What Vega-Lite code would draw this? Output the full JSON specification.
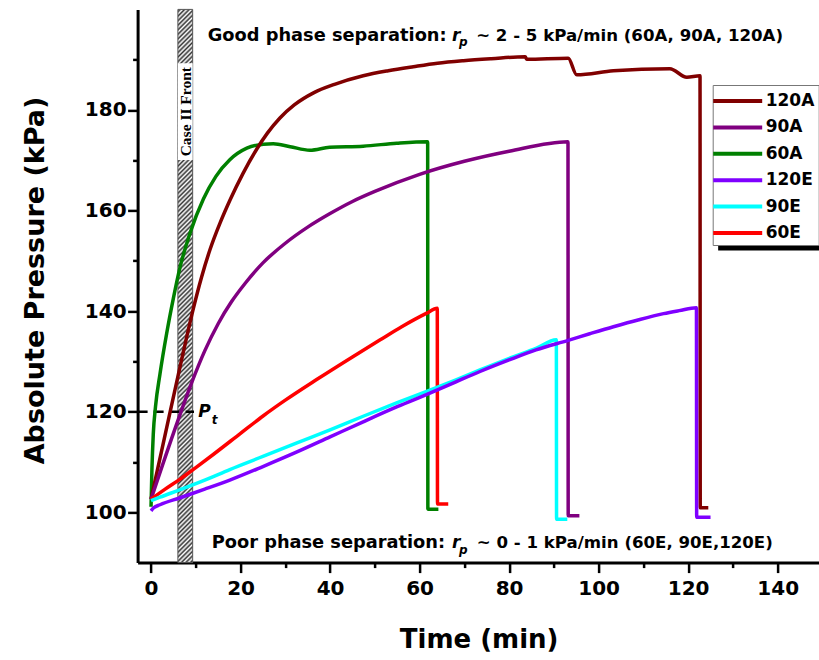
{
  "$schema": "https://vega.github.io/schema/vega-lite/v6.json",
  "width": 681.4,
  "height": 553.2,
  "autosize": {"type": "none"},
  "padding": {"left": 137.6, "top": 9.4, "right": 0, "bottom": 97.4},
  "config": {"view": {"stroke": null}, "font": "DejaVu Sans", "background": "white"},
  "layer": [
    {
      "data": {"values": [{"t": 6.0, "t2": 9.3}]},
      "mark": {"type": "rect", "stroke": "#555", "strokeWidth": 1,
        "fill": {"gradient": "linear", "x1": 0, "y1": 0, "x2": 0.0274, "y2": 1.0259, "stops": [
{"offset":0,"color":"#fff"},{"offset":0.004,"color":"#333"},{"offset":0.008,"color":"#fff"},{"offset":0.012,"color":"#333"},{"offset":0.016,"color":"#fff"},{"offset":0.02,"color":"#333"},{"offset":0.024,"color":"#fff"},{"offset":0.028,"color":"#333"},{"offset":0.032,"color":"#fff"},{"offset":0.036,"color":"#333"},
{"offset":0.04,"color":"#fff"},{"offset":0.044,"color":"#333"},{"offset":0.048,"color":"#fff"},{"offset":0.052,"color":"#333"},{"offset":0.056,"color":"#fff"},{"offset":0.06,"color":"#333"},{"offset":0.064,"color":"#fff"},{"offset":0.068,"color":"#333"},{"offset":0.072,"color":"#fff"},{"offset":0.076,"color":"#333"},
{"offset":0.08,"color":"#fff"},{"offset":0.084,"color":"#333"},{"offset":0.088,"color":"#fff"},{"offset":0.092,"color":"#333"},{"offset":0.096,"color":"#fff"},{"offset":0.1,"color":"#333"},{"offset":0.104,"color":"#fff"},{"offset":0.108,"color":"#333"},{"offset":0.112,"color":"#fff"},{"offset":0.116,"color":"#333"},
{"offset":0.12,"color":"#fff"},{"offset":0.124,"color":"#333"},{"offset":0.128,"color":"#fff"},{"offset":0.132,"color":"#333"},{"offset":0.136,"color":"#fff"},{"offset":0.14,"color":"#333"},{"offset":0.144,"color":"#fff"},{"offset":0.148,"color":"#333"},{"offset":0.152,"color":"#fff"},{"offset":0.156,"color":"#333"},
{"offset":0.16,"color":"#fff"},{"offset":0.164,"color":"#333"},{"offset":0.168,"color":"#fff"},{"offset":0.172,"color":"#333"},{"offset":0.176,"color":"#fff"},{"offset":0.18,"color":"#333"},{"offset":0.184,"color":"#fff"},{"offset":0.188,"color":"#333"},{"offset":0.192,"color":"#fff"},{"offset":0.196,"color":"#333"},
{"offset":0.2,"color":"#fff"},{"offset":0.204,"color":"#333"},{"offset":0.208,"color":"#fff"},{"offset":0.212,"color":"#333"},{"offset":0.216,"color":"#fff"},{"offset":0.22,"color":"#333"},{"offset":0.224,"color":"#fff"},{"offset":0.228,"color":"#333"},{"offset":0.232,"color":"#fff"},{"offset":0.236,"color":"#333"},
{"offset":0.24,"color":"#fff"},{"offset":0.244,"color":"#333"},{"offset":0.248,"color":"#fff"},{"offset":0.252,"color":"#333"},{"offset":0.256,"color":"#fff"},{"offset":0.26,"color":"#333"},{"offset":0.264,"color":"#fff"},{"offset":0.268,"color":"#333"},{"offset":0.272,"color":"#fff"},{"offset":0.276,"color":"#333"},
{"offset":0.28,"color":"#fff"},{"offset":0.284,"color":"#333"},{"offset":0.288,"color":"#fff"},{"offset":0.292,"color":"#333"},{"offset":0.296,"color":"#fff"},{"offset":0.3,"color":"#333"},{"offset":0.304,"color":"#fff"},{"offset":0.308,"color":"#333"},{"offset":0.312,"color":"#fff"},{"offset":0.316,"color":"#333"},
{"offset":0.32,"color":"#fff"},{"offset":0.324,"color":"#333"},{"offset":0.328,"color":"#fff"},{"offset":0.332,"color":"#333"},{"offset":0.336,"color":"#fff"},{"offset":0.34,"color":"#333"},{"offset":0.344,"color":"#fff"},{"offset":0.348,"color":"#333"},{"offset":0.352,"color":"#fff"},{"offset":0.356,"color":"#333"},
{"offset":0.36,"color":"#fff"},{"offset":0.364,"color":"#333"},{"offset":0.368,"color":"#fff"},{"offset":0.372,"color":"#333"},{"offset":0.376,"color":"#fff"},{"offset":0.38,"color":"#333"},{"offset":0.384,"color":"#fff"},{"offset":0.388,"color":"#333"},{"offset":0.392,"color":"#fff"},{"offset":0.396,"color":"#333"},
{"offset":0.4,"color":"#fff"},{"offset":0.404,"color":"#333"},{"offset":0.408,"color":"#fff"},{"offset":0.412,"color":"#333"},{"offset":0.416,"color":"#fff"},{"offset":0.42,"color":"#333"},{"offset":0.424,"color":"#fff"},{"offset":0.428,"color":"#333"},{"offset":0.432,"color":"#fff"},{"offset":0.436,"color":"#333"},
{"offset":0.44,"color":"#fff"},{"offset":0.444,"color":"#333"},{"offset":0.448,"color":"#fff"},{"offset":0.452,"color":"#333"},{"offset":0.456,"color":"#fff"},{"offset":0.46,"color":"#333"},{"offset":0.464,"color":"#fff"},{"offset":0.468,"color":"#333"},{"offset":0.472,"color":"#fff"},{"offset":0.476,"color":"#333"},
{"offset":0.48,"color":"#fff"},{"offset":0.484,"color":"#333"},{"offset":0.488,"color":"#fff"},{"offset":0.492,"color":"#333"},{"offset":0.496,"color":"#fff"},{"offset":0.5,"color":"#333"},{"offset":0.504,"color":"#fff"},{"offset":0.508,"color":"#333"},{"offset":0.512,"color":"#fff"},{"offset":0.516,"color":"#333"},
{"offset":0.52,"color":"#fff"},{"offset":0.524,"color":"#333"},{"offset":0.528,"color":"#fff"},{"offset":0.532,"color":"#333"},{"offset":0.536,"color":"#fff"},{"offset":0.54,"color":"#333"},{"offset":0.544,"color":"#fff"},{"offset":0.548,"color":"#333"},{"offset":0.552,"color":"#fff"},{"offset":0.556,"color":"#333"},
{"offset":0.56,"color":"#fff"},{"offset":0.564,"color":"#333"},{"offset":0.568,"color":"#fff"},{"offset":0.572,"color":"#333"},{"offset":0.576,"color":"#fff"},{"offset":0.58,"color":"#333"},{"offset":0.584,"color":"#fff"},{"offset":0.588,"color":"#333"},{"offset":0.592,"color":"#fff"},{"offset":0.596,"color":"#333"},
{"offset":0.6,"color":"#fff"},{"offset":0.604,"color":"#333"},{"offset":0.608,"color":"#fff"},{"offset":0.612,"color":"#333"},{"offset":0.616,"color":"#fff"},{"offset":0.62,"color":"#333"},{"offset":0.624,"color":"#fff"},{"offset":0.628,"color":"#333"},{"offset":0.632,"color":"#fff"},{"offset":0.636,"color":"#333"},
{"offset":0.64,"color":"#fff"},{"offset":0.644,"color":"#333"},{"offset":0.648,"color":"#fff"},{"offset":0.652,"color":"#333"},{"offset":0.656,"color":"#fff"},{"offset":0.66,"color":"#333"},{"offset":0.664,"color":"#fff"},{"offset":0.668,"color":"#333"},{"offset":0.672,"color":"#fff"},{"offset":0.676,"color":"#333"},
{"offset":0.68,"color":"#fff"},{"offset":0.684,"color":"#333"},{"offset":0.688,"color":"#fff"},{"offset":0.692,"color":"#333"},{"offset":0.696,"color":"#fff"},{"offset":0.7,"color":"#333"},{"offset":0.704,"color":"#fff"},{"offset":0.708,"color":"#333"},{"offset":0.712,"color":"#fff"},{"offset":0.716,"color":"#333"},
{"offset":0.72,"color":"#fff"},{"offset":0.724,"color":"#333"},{"offset":0.728,"color":"#fff"},{"offset":0.732,"color":"#333"},{"offset":0.736,"color":"#fff"},{"offset":0.74,"color":"#333"},{"offset":0.744,"color":"#fff"},{"offset":0.748,"color":"#333"},{"offset":0.752,"color":"#fff"},{"offset":0.756,"color":"#333"},
{"offset":0.76,"color":"#fff"},{"offset":0.764,"color":"#333"},{"offset":0.768,"color":"#fff"},{"offset":0.772,"color":"#333"},{"offset":0.776,"color":"#fff"},{"offset":0.78,"color":"#333"},{"offset":0.784,"color":"#fff"},{"offset":0.788,"color":"#333"},{"offset":0.792,"color":"#fff"},{"offset":0.796,"color":"#333"},
{"offset":0.8,"color":"#fff"},{"offset":0.804,"color":"#333"},{"offset":0.808,"color":"#fff"},{"offset":0.812,"color":"#333"},{"offset":0.816,"color":"#fff"},{"offset":0.82,"color":"#333"},{"offset":0.824,"color":"#fff"},{"offset":0.828,"color":"#333"},{"offset":0.832,"color":"#fff"},{"offset":0.836,"color":"#333"},
{"offset":0.84,"color":"#fff"},{"offset":0.844,"color":"#333"},{"offset":0.848,"color":"#fff"},{"offset":0.852,"color":"#333"},{"offset":0.856,"color":"#fff"},{"offset":0.86,"color":"#333"},{"offset":0.864,"color":"#fff"},{"offset":0.868,"color":"#333"},{"offset":0.872,"color":"#fff"},{"offset":0.876,"color":"#333"},
{"offset":0.88,"color":"#fff"},{"offset":0.884,"color":"#333"},{"offset":0.888,"color":"#fff"},{"offset":0.892,"color":"#333"},{"offset":0.896,"color":"#fff"},{"offset":0.9,"color":"#333"},{"offset":0.904,"color":"#fff"},{"offset":0.908,"color":"#333"},{"offset":0.912,"color":"#fff"},{"offset":0.916,"color":"#333"},
{"offset":0.92,"color":"#fff"},{"offset":0.924,"color":"#333"},{"offset":0.928,"color":"#fff"},{"offset":0.932,"color":"#333"},{"offset":0.936,"color":"#fff"},{"offset":0.94,"color":"#333"},{"offset":0.944,"color":"#fff"},{"offset":0.948,"color":"#333"},{"offset":0.952,"color":"#fff"},{"offset":0.956,"color":"#333"},
{"offset":0.96,"color":"#fff"},{"offset":0.964,"color":"#333"},{"offset":0.968,"color":"#fff"},{"offset":0.972,"color":"#333"},{"offset":0.976,"color":"#fff"},{"offset":0.98,"color":"#333"},{"offset":0.984,"color":"#fff"},{"offset":0.988,"color":"#333"},{"offset":0.992,"color":"#fff"},{"offset":0.996,"color":"#333"},
{"offset":1,"color":"#fff"}
        ]}},
      "encoding": {
        "x": {"field": "t", "type": "quantitative", "scale": {"domain": [-3, 149.23], "nice": false, "zero": false}},
        "x2": {"field": "t2"}
      }
    },
    {
      "data": {"values": [{"t": 6.0, "t2": 9.3, "p": 170.05, "p2": 189.3}]},
      "mark": {"type": "rect", "fill": "white"},
      "encoding": {
        "x": {"field": "t", "type": "quantitative", "scale": {"domain": [-3, 149.23], "nice": false, "zero": false}},
        "x2": {"field": "t2"},
        "y": {"field": "p", "type": "quantitative", "scale": {"domain": [90, 200], "nice": false, "zero": false}},
        "y2": {"field": "p2"}
      }
    },
    {
      "data": {"values": [{"t": 7.9, "p": 179.66, "txt": "Case II Front"}]},
      "mark": {"type": "text", "angle": 270, "font": "Liberation Serif", "fontWeight": "bold", "fontSize": 15.5, "align": "center", "baseline": "middle", "color": "black"},
      "encoding": {
        "x": {"field": "t", "type": "quantitative", "scale": {"domain": [-3, 149.23], "nice": false, "zero": false}},
        "y": {"field": "p", "type": "quantitative", "scale": {"domain": [90, 200], "nice": false, "zero": false}},
        "text": {"field": "txt"}
      }
    },
    {
      "data": {"values": [{"t": -3, "t2": 9.6}]},
      "mark": {"type": "rule", "strokeWidth": 2.5, "color": "black", "strokeDash": [10, 6]},
      "encoding": {
        "x": {"field": "t", "type": "quantitative", "scale": {"domain": [-3, 149.23], "nice": false, "zero": false}},
        "x2": {"field": "t2"},
        "y": {"datum": 120, "type": "quantitative", "scale": {"domain": [90, 200], "nice": false, "zero": false}}
      }
    },
    {
      "data": {"values": [
        {"s":"60A","t":0,"p":101.1},{"s":"60A","t":0.2,"p":108.5},{"s":"60A","t":0.5,"p":115.5},{"s":"60A","t":1.0,"p":121},{"s":"60A","t":2.0,"p":127.5},{"s":"60A","t":3.5,"p":135.6},{"s":"60A","t":5,"p":142.6},{"s":"60A","t":6.5,"p":148.8},{"s":"60A","t":8.7,"p":155.5},{"s":"60A","t":11.7,"p":162.3},{"s":"60A","t":14.5,"p":166.8},{"s":"60A","t":17.6,"p":170.1},{"s":"60A","t":21.4,"p":172.4},{"s":"60A","t":25.1,"p":173.2},{"s":"60A","t":27.3,"p":173.3},{"s":"60A","t":31.1,"p":172.7},{"s":"60A","t":35.5,"p":172.0},{"s":"60A","t":39.9,"p":172.6},{"s":"60A","t":47.4,"p":172.8},{"s":"60A","t":54.9,"p":173.4},{"s":"60A","t":61.8,"p":173.7},{"s":"60A","t":61.85,"p":100.6},{"s":"60A","t":64.2,"p":100.6},
        {"s":"120A","t":0,"p":102.6},{"s":"120A","t":3,"p":114.8},{"s":"120A","t":6,"p":127.0},{"s":"120A","t":8,"p":135.0},{"s":"120A","t":9.45,"p":140.5},{"s":"120A","t":11.3,"p":146.8},{"s":"120A","t":13.2,"p":152.3},{"s":"120A","t":15.5,"p":157.7},{"s":"120A","t":17.65,"p":162.1},{"s":"120A","t":20.5,"p":167.3},{"s":"120A","t":23.6,"p":172.2},{"s":"120A","t":26,"p":175.4},{"s":"120A","t":28.8,"p":178.4},{"s":"120A","t":32,"p":181.0},{"s":"120A","t":36.3,"p":183.4},{"s":"120A","t":41,"p":185.1},{"s":"120A","t":47.4,"p":186.8},{"s":"120A","t":53,"p":187.8},{"s":"120A","t":58.6,"p":188.6},{"s":"120A","t":64,"p":189.3},{"s":"120A","t":69.8,"p":189.8},{"s":"120A","t":76,"p":190.2},{"s":"120A","t":83.6,"p":190.6},{"s":"120A","t":83.9,"p":190.1},{"s":"120A","t":93.2,"p":190.3},{"s":"120A","t":95.1,"p":187.0},{"s":"120A","t":103.3,"p":187.8},{"s":"120A","t":115.9,"p":188.2},{"s":"120A","t":119.7,"p":186.5},{"s":"120A","t":122.65,"p":186.8},{"s":"120A","t":122.7,"p":100.9},{"s":"120A","t":124.5,"p":100.9},
        {"s":"90A","t":0,"p":102.6},{"s":"90A","t":5,"p":115.7},{"s":"90A","t":9,"p":125.6},{"s":"90A","t":12,"p":132.1},{"s":"90A","t":15,"p":137.5},{"s":"90A","t":18,"p":141.9},{"s":"90A","t":21,"p":145.5},{"s":"90A","t":25,"p":149.6},{"s":"90A","t":30,"p":153.5},{"s":"90A","t":35,"p":156.7},{"s":"90A","t":40,"p":159.4},{"s":"90A","t":45,"p":161.8},{"s":"90A","t":50,"p":163.8},{"s":"90A","t":60,"p":167.2},{"s":"90A","t":70,"p":169.8},{"s":"90A","t":80,"p":171.8},{"s":"90A","t":93.15,"p":173.7},{"s":"90A","t":93.2,"p":99.3},{"s":"90A","t":95.7,"p":99.3},
        {"s":"60E","t":0,"p":102.6},{"s":"60E","t":3,"p":104.5},{"s":"60E","t":6.5,"p":106.6},{"s":"60E","t":10,"p":108.9},{"s":"60E","t":13.9,"p":111.5},{"s":"60E","t":20,"p":115.7},{"s":"60E","t":25.1,"p":119.2},{"s":"60E","t":30,"p":122.3},{"s":"60E","t":37,"p":126.4},{"s":"60E","t":45,"p":130.9},{"s":"60E","t":51.2,"p":134.3},{"s":"60E","t":56,"p":136.9},{"s":"60E","t":61.6,"p":139.6},{"s":"60E","t":63.95,"p":140.6},{"s":"60E","t":64.0,"p":101.65},{"s":"60E","t":66.4,"p":101.65},
        {"s":"90E","t":0,"p":102.3},{"s":"90E","t":2,"p":103.0},{"s":"90E","t":6.5,"p":104.5},{"s":"90E","t":12,"p":106.4},{"s":"90E","t":17.6,"p":108.5},{"s":"90E","t":25,"p":111.1},{"s":"90E","t":32.6,"p":113.8},{"s":"90E","t":40,"p":116.4},{"s":"90E","t":47.4,"p":119.1},{"s":"90E","t":55,"p":121.8},{"s":"90E","t":62.3,"p":124.3},{"s":"90E","t":68,"p":126.3},{"s":"90E","t":73.5,"p":128.3},{"s":"90E","t":80.9,"p":130.9},{"s":"90E","t":86,"p":132.6},{"s":"90E","t":90.55,"p":134.3},{"s":"90E","t":90.6,"p":98.6},{"s":"90E","t":93.0,"p":98.6},
        {"s":"120E","t":0,"p":100.3},{"s":"120E","t":0.6,"p":100.9},{"s":"120E","t":2,"p":101.5},{"s":"120E","t":6.5,"p":102.9},{"s":"120E","t":12,"p":104.6},{"s":"120E","t":17.6,"p":106.4},{"s":"120E","t":25,"p":109.1},{"s":"120E","t":32.6,"p":112},{"s":"120E","t":40,"p":115},{"s":"120E","t":47.4,"p":118},{"s":"120E","t":55,"p":121},{"s":"120E","t":62.3,"p":123.7},{"s":"120E","t":68,"p":125.9},{"s":"120E","t":73.5,"p":128},{"s":"120E","t":80,"p":130.3},{"s":"120E","t":86,"p":132.3},{"s":"120E","t":93.2,"p":134.2},{"s":"120E","t":98,"p":135.5},{"s":"120E","t":103.3,"p":136.9},{"s":"120E","t":109,"p":138.3},{"s":"120E","t":114.5,"p":139.5},{"s":"120E","t":118,"p":140.1},{"s":"120E","t":121.85,"p":140.7},{"s":"120E","t":121.9,"p":99.0},{"s":"120E","t":125,"p":99.0}
      ]},
      "mark": {"type": "line", "strokeWidth": 3.5, "interpolate": "monotone"},
      "encoding": {
        "x": {"field": "t", "type": "quantitative", "scale": {"domain": [-3, 149.23], "nice": false, "zero": false},
          "axis": {"title": "Time (min)", "values": [0,10,20,30,40,50,60,70,80,90,100,110,120,130,140],
            "labelExpr": "datum.value % 20 === 0 ? datum.label : ''",
            "tickSize": {"condition": {"test": "datum.value % 20 === 0", "value": 10}, "value": 5},
            "tickWidth": 2.5, "tickColor": "black", "domainColor": "black", "domainWidth": 3,
            "labelFont": "DejaVu Sans", "labelFontWeight": "bold", "labelFontSize": 20, "labelColor": "black", "labelPadding": 6,
            "labelFlush": false, "labelOverlap": false, "grid": false,
            "titleFont": "DejaVu Sans", "titleFontWeight": "bold", "titleFontSize": 26, "titleColor": "black",
            "titleX": 341, "titleY": 85.1, "titleBaseline": "alphabetic", "titleAlign": "center", "titleAnchor": null}},
        "y": {"field": "p", "type": "quantitative", "scale": {"domain": [90, 200], "nice": false, "zero": false},
          "axis": {"title": "Absolute Pressure (kPa)", "values": [100,110,120,130,140,150,160,170,180,190],
            "labelExpr": "datum.value % 20 === 0 ? datum.label : ''",
            "tickSize": {"condition": {"test": "datum.value % 20 === 0", "value": 10}, "value": 5},
            "tickWidth": 2.5, "tickColor": "black", "domainColor": "black", "domainWidth": 3,
            "labelFont": "DejaVu Sans", "labelFontWeight": "bold", "labelFontSize": 20, "labelColor": "black", "labelPadding": 1.5,
            "labelFlush": false, "labelOverlap": false, "grid": false,
            "titleFont": "DejaVu Sans", "titleFontWeight": "bold", "titleFontSize": 27, "titleColor": "black",
            "titleX": -94, "titleY": 270.6, "titleAngle": 270, "titleBaseline": "alphabetic", "titleAlign": "center", "titleAnchor": null}},
        "color": {"field": "s", "type": "nominal",
          "scale": {"domain": ["120A","90A","60A","120E","90E","60E"], "range": ["#800000","#800080","#008000","#7F00FF","#00FFFF","#FF0000"]},
          "legend": {"orient": "none", "legendX": 575.1, "legendY": 75.6, "title": null,
            "symbolType": "M-2.5,0H2.5", "symbolSize": 384, "symbolStrokeWidth": 4, "symbolOffset": 9,
            "labelOffset": 16, "labelFont": "DejaVu Sans", "labelFontWeight": "bold", "labelFontSize": 17, "labelColor": "black", "labelBaseline": "middle",
            "padding": 4, "rowPadding": 6.4, "strokeColor": "#777", "fillColor": "white"}}
      }
    },
    {
      "data": {"values": [{"t": 12.67, "p": 193.8, "txt": "Good phase separation: "}, {"t": 13.56, "p": 92.84, "txt": "Poor phase separation: "}]},
      "mark": {"type": "text", "font": "DejaVu Sans", "fontWeight": "bold", "fontSize": 17.8, "align": "left", "baseline": "alphabetic", "color": "black"},
      "encoding": {
        "x": {"field": "t", "type": "quantitative", "scale": {"domain": [-3, 149.23], "nice": false, "zero": false}},
        "y": {"field": "p", "type": "quantitative", "scale": {"domain": [90, 200], "nice": false, "zero": false}},
        "text": {"field": "txt"}
      }
    },
    {
      "data": {"values": [{"t": 141.2, "p": 193.8, "txt": "~ 2 - 5 kPa/min (60A, 90A, 120A)"}, {"t": 138.9, "p": 92.84, "txt": "~ 0 - 1 kPa/min (60E, 90E,120E)"}]},
      "mark": {"type": "text", "font": "DejaVu Sans", "fontWeight": "bold", "fontSize": 16.6, "align": "right", "baseline": "alphabetic", "color": "black"},
      "encoding": {
        "x": {"field": "t", "type": "quantitative", "scale": {"domain": [-3, 149.23], "nice": false, "zero": false}},
        "y": {"field": "p", "type": "quantitative", "scale": {"domain": [90, 200], "nice": false, "zero": false}},
        "text": {"field": "txt"}
      }
    },
    {
      "data": {"values": [{"t": 67.25, "p": 193.8, "txt": "r"}, {"t": 67.25, "p": 92.84, "txt": "r"}, {"t": 10.57, "p": 118.9, "txt": "P"}]},
      "mark": {"type": "text", "font": "DejaVu Sans", "fontWeight": "bold", "fontStyle": "italic", "fontSize": 17, "align": "left", "baseline": "alphabetic", "color": "black"},
      "encoding": {
        "x": {"field": "t", "type": "quantitative", "scale": {"domain": [-3, 149.23], "nice": false, "zero": false}},
        "y": {"field": "p", "type": "quantitative", "scale": {"domain": [90, 200], "nice": false, "zero": false}},
        "text": {"field": "txt"}
      }
    },
    {
      "data": {"values": [{"t": 68.8, "p": 192.8, "txt": "p"}, {"t": 68.8, "p": 91.8, "txt": "p"}, {"t": 13.56, "p": 117.56, "txt": "t"}]},
      "mark": {"type": "text", "font": "DejaVu Sans", "fontWeight": "bold", "fontStyle": "italic", "fontSize": 12, "align": "left", "baseline": "alphabetic", "color": "black"},
      "encoding": {
        "x": {"field": "t", "type": "quantitative", "scale": {"domain": [-3, 149.23], "nice": false, "zero": false}},
        "y": {"field": "p", "type": "quantitative", "scale": {"domain": [90, 200], "nice": false, "zero": false}},
        "text": {"field": "txt"}
      }
    },
    {
      "data": {"values": [{"t": 126.7, "t2": 149.23, "p": 152.95, "p2": 152.05}]},
      "mark": {"type": "rect", "fill": "black"},
      "encoding": {
        "x": {"field": "t", "type": "quantitative", "scale": {"domain": [-3, 149.23], "nice": false, "zero": false}},
        "x2": {"field": "t2"},
        "y": {"field": "p", "type": "quantitative", "scale": {"domain": [90, 200], "nice": false, "zero": false}},
        "y2": {"field": "p2"}
      }
    },
    {
      "mark": {"type": "rule", "strokeWidth": 3, "color": "black"},
      "encoding": {
        "y": {"datum": 200, "type": "quantitative", "scale": {"domain": [90, 200], "nice": false, "zero": false}}
      }
    }
  ]
}
